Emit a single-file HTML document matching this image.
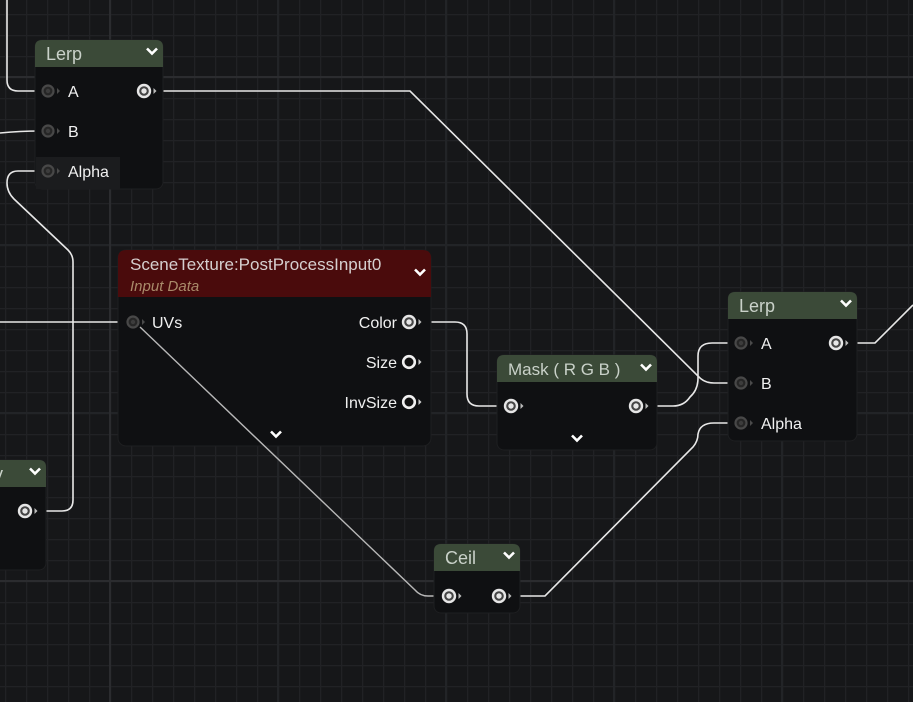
<!DOCTYPE html>
<html><head><meta charset="utf-8"><style>
html,body{margin:0;padding:0;background:#161719;}
svg{display:block}
text{font-family:"Liberation Sans",sans-serif;}
</style></head><body>
<svg width="913" height="702" viewBox="0 0 913 702" xmlns="http://www.w3.org/2000/svg">
<defs>
<pattern id="minor" x="5" y="14" width="21" height="21" patternUnits="userSpaceOnUse">
<rect width="21" height="21" fill="#161719"/>
<path d="M0 0.5H21M0.5 0V21" stroke="#212225" stroke-width="1.5"/>
</pattern>
<g id="pin-in"><circle r="5.5" fill="#262626" stroke="#484848" stroke-width="2.2"/><circle r="2.2" fill="#3c3c3c"/><path d="M9,-3 L12,0 L9,3Z" fill="#4a4a4a"/></g>
<g id="pin-out"><circle r="6" fill="#444" stroke="#e6e6e6" stroke-width="2.4"/><circle r="2.7" fill="#e6e6e6"/><path d="M9.5,-3 L12.5,0 L9.5,3Z" fill="#bbb"/></g>
<g id="pin-hollow"><circle r="5.8" fill="#111" stroke="#f0f0f0" stroke-width="2.6"/><path d="M9.5,-3 L12.5,0 L9.5,3Z" fill="#ccc"/></g>
<path id="chev" d="M-5,-2.5 L0,2.5 L5,-2.5" fill="none" stroke="#fff" stroke-width="2.6"/>
</defs>
<rect width="913" height="702" fill="url(#minor)"/>
<g stroke="#222427" stroke-width="2">
<path d="M278 0V702M446 0V702M614 0V702M782 0V702"/>
<path d="M0 245H913M0 413H913"/>
</g>
<g stroke="#2b2c2f" stroke-width="2">
<path d="M110 0V702"/>
<path d="M0 77H913M0 581H913"/>
</g>

<!-- wires -->
<g fill="none" stroke="#e8e8e8" stroke-width="1.6">
<path d="M7,0 V80 Q7,91 18,91 H40"/>
<path d="M0,133 Q20,131 40,131"/>
<path d="M40,171 H18 Q7,171 7,183 Q7,192 14,199 L68,250 Q73,255 73,262 V500 Q73,511 62,511 H33"/>
<path d="M154,91 H410 L698,376 Q704,383 714,383 H735"/>
<path d="M0,322 H125"/>
<path d="M418,322 H455 Q467,322 467,334 V394 Q467,406 479,406 H503"/>
<path d="M644,406 H673 Q684,406 690,397 Q698,390 698,378 V356 Q698,343 712,343 H735"/>
<path d="M507,596 H545 L693,447 Q698,441 698,434 Q700,423 714,423 H735"/>
<path d="M844,343 H875 L913,305"/>
</g>

<!-- Lerp 1 -->
<rect x="35" y="40" width="128" height="149" rx="7" fill="#0f1012" stroke="#1e1f21"/>
<path d="M35,67 V47 Q35,40 42,40 H156 Q163,40 163,47 V67Z" fill="#3b4a38"/>
<text x="46" y="60" font-size="18" fill="#c9d1c9">Lerp</text>
<use href="#chev" x="152" y="51"/>
<rect x="36" y="157" width="84" height="32" fill="#1b1c1e"/>
<use href="#pin-in" x="48" y="91"/><use href="#pin-in" x="48" y="131"/><use href="#pin-in" x="48" y="171"/>
<use href="#pin-out" x="144" y="91"/>
<text x="68" y="97" font-size="16" fill="#f0f0f0">A</text>
<text x="68" y="137" font-size="16" fill="#f0f0f0">B</text>
<text x="68" y="177" font-size="16" fill="#f0f0f0">Alpha</text>

<!-- SceneTexture -->
<rect x="118" y="250" width="313" height="196" rx="8" fill="#0f1012" stroke="#1e1f21"/>
<path d="M118,297 V258 Q118,250 126,250 H423 Q431,250 431,258 V297Z" fill="#4a0b0c"/>
<text x="130" y="270" font-size="17" fill="#d6cfcf">SceneTexture:PostProcessInput0</text>
<text x="130" y="291" font-size="15" font-style="italic" fill="#a98a6a">Input Data</text>
<use href="#chev" x="420" y="272"/>
<use href="#pin-in" x="133" y="322"/>
<text x="152" y="328" font-size="16" fill="#f0f0f0">UVs</text>
<text x="397" y="328" font-size="16" fill="#f0f0f0" text-anchor="end">Color</text>
<text x="397" y="368" font-size="16" fill="#f0f0f0" text-anchor="end">Size</text>
<text x="397" y="408" font-size="16" fill="#f0f0f0" text-anchor="end">InvSize</text>
<use href="#pin-out" x="409" y="322"/>
<use href="#pin-hollow" x="409" y="362"/>
<use href="#pin-hollow" x="409" y="402"/>
<use href="#chev" x="276" y="434"/>

<!-- UV wire over node -->
<path d="M140,327 L415,590 Q420,596 428,596 H441" fill="none" stroke="#b8b8b8" stroke-width="1.4"/>

<!-- Mask -->
<rect x="497" y="355" width="160" height="95" rx="7" fill="#0f1012" stroke="#1e1f21"/>
<path d="M497,382 V362 Q497,355 504,355 H650 Q657,355 657,362 V382Z" fill="#3b4a38"/>
<text x="508" y="375" font-size="17" fill="#c9d1c9">Mask ( R G B )</text>
<use href="#chev" x="646" y="367"/>
<use href="#pin-out" x="511" y="406"/><use href="#pin-out" x="636" y="406"/>
<use href="#chev" x="577" y="438"/>

<!-- Lerp 2 -->
<rect x="728" y="292" width="129" height="149" rx="7" fill="#0f1012" stroke="#1e1f21"/>
<path d="M728,319 V299 Q728,292 735,292 H850 Q857,292 857,299 V319Z" fill="#3b4a38"/>
<text x="739" y="312" font-size="18" fill="#c9d1c9">Lerp</text>
<use href="#chev" x="846" y="303"/>
<use href="#pin-in" x="741" y="343"/><use href="#pin-in" x="741" y="383"/><use href="#pin-in" x="741" y="423"/>
<use href="#pin-out" x="836" y="343"/>
<text x="761" y="349" font-size="16" fill="#f0f0f0">A</text>
<text x="761" y="389" font-size="16" fill="#f0f0f0">B</text>
<text x="761" y="429" font-size="16" fill="#f0f0f0">Alpha</text>

<!-- Ceil -->
<rect x="434" y="544" width="86" height="69" rx="7" fill="#0f1012" stroke="#1e1f21"/>
<path d="M434,571 V551 Q434,544 441,544 H513 Q520,544 520,551 V571Z" fill="#3b4a38"/>
<text x="445" y="564" font-size="18" fill="#c9d1c9">Ceil</text>
<use href="#chev" x="509" y="555"/>
<use href="#pin-out" x="449" y="596"/><use href="#pin-out" x="499" y="596"/>

<!-- left partial node -->
<rect x="-20" y="460" width="66" height="110" rx="7" fill="#0f1012" stroke="#1e1f21"/>
<path d="M-20,487 V467 Q-20,460 -13,460 H39 Q46,460 46,467 V487Z" fill="#3b4a38"/>
<text x="-6" y="480" font-size="18" fill="#c9d1c9">y</text>
<use href="#chev" x="35" y="471"/>
<use href="#pin-out" x="25" y="511"/>
</svg>
</body></html>
